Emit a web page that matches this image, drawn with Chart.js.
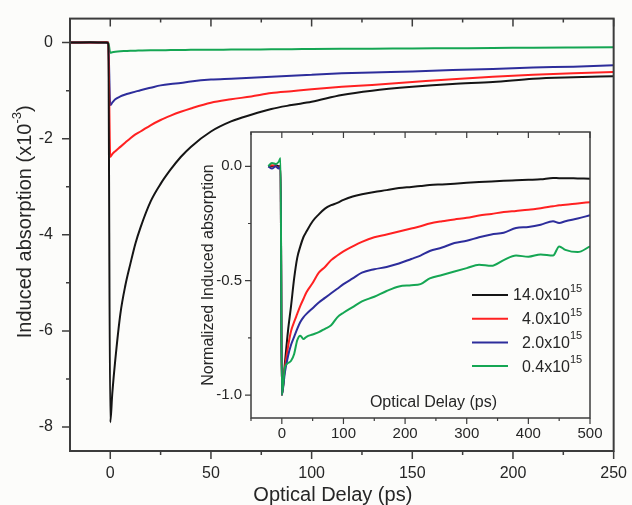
<!DOCTYPE html>
<html>
<head>
<meta charset="utf-8">
<script src="https://cdn.jsdelivr.net/npm/chart.js@4.4.1/dist/chart.umd.min.js"></script>
<style>
  html, body { margin: 0; padding: 0; background: #fcfcfa; }
  #wrap { position: relative; width: 632px; height: 505px; }
  #mainChart { position: absolute; left: 0; top: 0; }
  #insetChart { position: absolute; left: 190px; top: 120px; }
</style>
</head>
<body>
<div id="wrap">
  <canvas id="mainChart" width="632" height="505"></canvas>
  <canvas id="insetChart" width="420" height="330"></canvas>
</div>
<script>
// main panel: induced absorption (x10^-3) vs optical delay (ps)
var mainDelay = [-20, -10, -2, -1, 0, 1, 2.5, 5, 7.5, 10, 12.5, 15, 20, 25, 30, 35, 40, 50, 60, 70, 80, 90, 100, 115, 130, 150, 170, 190, 210, 230, 250];
var mainHigh = [0, 0.01, 0, -0.02, -7.9, -7.3, -6.6, -5.65, -5.05, -4.6, -4.18, -3.85, -3.31, -2.94, -2.64, -2.38, -2.17, -1.85, -1.64, -1.50, -1.38, -1.30, -1.23, -1.09, -1.00, -0.92, -0.86, -0.82, -0.75, -0.72, -0.70];
var mainMid = [0, 0, 0.01, 0, -2.38, -2.32, -2.26, -2.17, -2.08, -1.99, -1.91, -1.85, -1.72, -1.61, -1.52, -1.44, -1.37, -1.25, -1.18, -1.12, -1.05, -1.01, -0.97, -0.92, -0.88, -0.82, -0.76, -0.71, -0.67, -0.64, -0.61];
var mainLow = [0, 0, 0, 0, -1.30, -1.25, -1.18, -1.12, -1.08, -1.05, -1.02, -0.99, -0.94, -0.89, -0.86, -0.84, -0.81, -0.77, -0.75, -0.73, -0.71, -0.69, -0.67, -0.64, -0.62, -0.60, -0.57, -0.55, -0.52, -0.50, -0.47];
var mainLowest = [0, 0, 0, 0, -0.21, -0.20, -0.19, -0.18, -0.175, -0.17, -0.168, -0.165, -0.16, -0.158, -0.155, -0.153, -0.15, -0.148, -0.145, -0.142, -0.14, -0.137, -0.134, -0.13, -0.126, -0.122, -0.117, -0.112, -0.105, -0.10, -0.095];

// inset: normalized induced absorption vs optical delay (ps)
var insetDelay = [-22, -16, -10, -5, -2, 0, 5, 10, 15, 20, 25, 30, 35, 40, 50, 60, 70, 80, 90, 100, 115, 130, 150, 170, 190, 210, 225, 240, 260, 280, 300, 320, 340, 360, 380, 400, 420, 440, 450, 460, 480, 500];
var normHigh = [0, 0, 0.005, 0, 0, -1, -0.86, -0.72, -0.61, -0.49, -0.40, -0.35, -0.31, -0.285, -0.24, -0.21, -0.185, -0.17, -0.16, -0.147, -0.132, -0.122, -0.112, -0.104, -0.095, -0.09, -0.086, -0.082, -0.079, -0.076, -0.072, -0.069, -0.066, -0.063, -0.061, -0.059, -0.057, -0.051, -0.052, -0.052, -0.053, -0.054];
var normMid = [0, 0.005, 0, -0.005, 0, -1, -0.88, -0.79, -0.72, -0.68, -0.645, -0.61, -0.58, -0.55, -0.51, -0.465, -0.44, -0.41, -0.39, -0.372, -0.35, -0.33, -0.31, -0.298, -0.285, -0.272, -0.262, -0.25, -0.24, -0.232, -0.225, -0.215, -0.208, -0.20, -0.195, -0.19, -0.183, -0.175, -0.17, -0.168, -0.162, -0.157];
var normLow = [0, -0.01, 0, -0.01, 0, -1, -0.90, -0.83, -0.78, -0.745, -0.71, -0.68, -0.66, -0.645, -0.62, -0.595, -0.575, -0.555, -0.535, -0.515, -0.49, -0.465, -0.45, -0.44, -0.425, -0.405, -0.39, -0.37, -0.355, -0.335, -0.325, -0.31, -0.298, -0.29, -0.27, -0.265, -0.255, -0.24, -0.248, -0.24, -0.228, -0.214];
var normLowest = [0, 0.015, 0.01, 0.02, 0.035, -1, -0.88, -0.86, -0.85, -0.82, -0.76, -0.74, -0.755, -0.745, -0.735, -0.725, -0.71, -0.695, -0.66, -0.64, -0.615, -0.59, -0.57, -0.545, -0.525, -0.52, -0.515, -0.49, -0.475, -0.46, -0.445, -0.43, -0.435, -0.41, -0.39, -0.395, -0.385, -0.39, -0.35, -0.365, -0.375, -0.35];

// excitation densities (x10^15)
var densityLabels = ['14.0x10', '4.0x10', '2.0x10', '0.4x10'];
var densityExp = '15';
var seriesColors = ['#151515', '#ff2121', '#2d2d9b', '#15a653'];

// tick labels
var mainXLabels = [0, 50, 100, 150, 200, 250];
var mainYLabels = [0, -2, -4, -6, -8];
var insetXLabels = [0, 100, 200, 300, 400, 500];
var insetYLabels = [0, -0.5, -1];

var FONT = '"Liberation Sans", Arial, sans-serif';
var TEXT = '#262626';
var AXIS = '#3c3c3c';

function fontOf(size) { return size + 'px ' + FONT; }

function onStep(v, step) {
    return Math.abs(v / step - Math.round(v / step)) < 1e-6;
}

function hasLabel(list, v) {
    for (var i = 0; i < list.length; i++) {
        if (Math.abs(list[i] - v) < 1e-6) return true;
    }
    return false;
}

// ticks on every multiple of step inside [min, max]
function stepTicks(step) {
    return function (scale) {
        var out = [];
        for (var k = Math.ceil(scale.min / step - 1e-9); k * step <= scale.max + 1e-9; k++) {
            out.push({value: +(k * step).toFixed(6)});
        }
        scale.ticks = out;
    };
}

function toPoints(xs, ys) {
    return xs.map(function (x, i) { return {x: x, y: ys[i]}; });
}

function makeSeries(xs, list, orders) {
    return list.map(function (ys, i) {
        return {
            label: densityLabels[i],
            data: toPoints(xs, ys),
            borderColor: seriesColors[i],
            backgroundColor: seriesColors[i],
            borderWidth: 2,
            pointRadius: 0,
            cubicInterpolationMode: 'monotone',
            fill: false,
            order: orders[i]
        };
    });
}

// text with a raised exponent, parts drawn left to right
function richText(ctx, parts, x, y, align) {
    var total = 0;
    parts.forEach(function (p) {
        ctx.font = fontOf(p.size);
        p.w = ctx.measureText(p.text).width;
        total += p.w;
    });
    var cx = align === 'center' ? x - total / 2 : x;
    ctx.textAlign = 'left';
    ctx.textBaseline = 'middle';
    parts.forEach(function (p) {
        ctx.font = fontOf(p.size);
        ctx.fillText(p.text, cx, y - (p.rise || 0));
        cx += p.w;
    });
}

// box round the plot area, plus tick marks (inward on top, outward bottom/left)
var axisFrame = {
    id: 'axisFrame',
    afterDraw: function (chart, args, o) {
        var ctx = chart.ctx, a = chart.chartArea, xs = chart.scales.x, ys = chart.scales.y;
        ctx.save();
        ctx.strokeStyle = AXIS;
        ctx.lineWidth = o.lineWidth;
        ctx.strokeRect(a.left, a.top, a.right - a.left, a.bottom - a.top);
        ctx.lineWidth = o.tickWidth;
        ctx.beginPath();
        xs.ticks.forEach(function (t) {
            var px = xs.getPixelForValue(t.value);
            var len = onStep(t.value, o.xMajor) ? o.major : o.minor;
            ctx.moveTo(px, a.bottom); ctx.lineTo(px, a.bottom + len);
            ctx.moveTo(px, a.top); ctx.lineTo(px, a.top + len);
        });
        ys.ticks.forEach(function (t) {
            var py = ys.getPixelForValue(t.value);
            var len = onStep(t.value, o.yMajor) ? o.major : o.minor;
            ctx.moveTo(a.left - len, py); ctx.lineTo(a.left, py);
        });
        ctx.stroke();
        ctx.restore();
    }
};

var mainTitle = {
    id: 'mainTitle',
    afterDraw: function (chart) {
        var ctx = chart.ctx, a = chart.chartArea;
        ctx.save();
        ctx.fillStyle = TEXT;
        ctx.font = fontOf(20);
        ctx.textAlign = 'center';
        ctx.textBaseline = 'middle';
        ctx.fillText('Optical Delay (ps)', (a.left + a.right) / 2 - 9, chart.height - 10);
        ctx.translate(25, (a.top + a.bottom) / 2 - 13);
        ctx.rotate(-Math.PI / 2);
        richText(ctx, [
            {text: 'Induced absorption (x10', size: 20},
            {text: '-3', size: 13, rise: 8},
            {text: ')', size: 20}
        ], 0, 0, 'center');
        ctx.restore();
    }
};

var insetNotes = {
    id: 'insetNotes',
    afterDraw: function (chart) {
        var ctx = chart.ctx, a = chart.chartArea;
        ctx.save();
        // axis title sits inside the plot area
        ctx.fillStyle = TEXT;
        ctx.font = fontOf(16);
        ctx.textAlign = 'center';
        ctx.textBaseline = 'middle';
        ctx.fillText('Optical Delay (ps)', (a.left + a.right) / 2 + 13, a.bottom - 15);
        // legend
        chart.data.datasets.forEach(function (ds, i) {
            var y = a.top + 163 + i * 23.7;
            ctx.strokeStyle = ds.borderColor;
            ctx.lineWidth = 2;
            ctx.beginPath();
            ctx.moveTo(a.right - 118, y);
            ctx.lineTo(a.right - 82, y);
            ctx.stroke();
            ctx.font = fontOf(16);
            var bw = ctx.measureText(ds.label).width;
            ctx.fillStyle = TEXT;
            richText(ctx, [
                {text: ds.label, size: 16},
                {text: densityExp, size: 11, rise: 7}
            ], a.right - 20 - bw, y + 1, 'left');
        });
        ctx.restore();
    }
};

function scaleX(min, max, step, labels, tickLen, pad, size, extra) {
    var s = {
        type: 'linear',
        position: 'bottom',
        min: min,
        max: max,
        border: {display: false},
        grid: {drawOnChartArea: false, drawTicks: true, tickLength: tickLen, tickColor: 'rgba(0,0,0,0)'},
        afterBuildTicks: stepTicks(step),
        ticks: {
            autoSkip: false,
            maxRotation: 0,
            padding: pad,
            color: TEXT,
            font: {family: FONT, size: size},
            callback: function (v) { return hasLabel(labels, v) ? String(v) : ''; }
        }
    };
    for (var k in extra) s[k] = extra[k];
    return s;
}

function scaleY(min, max, step, labels, tickLen, pad, size, fmt, extra) {
    var s = {
        type: 'linear',
        min: min,
        max: max,
        border: {display: false},
        grid: {drawOnChartArea: false, drawTicks: true, tickLength: tickLen, tickColor: 'rgba(0,0,0,0)'},
        afterBuildTicks: stepTicks(step),
        ticks: {
            autoSkip: false,
            padding: pad,
            color: TEXT,
            font: {family: FONT, size: size},
            callback: function (v) { return hasLabel(labels, v) ? fmt(v) : ''; }
        }
    };
    for (var k in extra) s[k] = extra[k];
    return s;
}

function drawMain() {
    var ctx = document.getElementById('mainChart').getContext('2d');
    new Chart(ctx, {
        type: 'line',
        data: {datasets: makeSeries(mainDelay, [mainHigh, mainMid, mainLow, mainLowest], [0, 1, 2, 3])},
        options: {
            responsive: false,
            animation: false,
            layout: {padding: {top: 13, right: 16, left: 0, bottom: 0}},
            plugins: {legend: {display: false}, tooltip: {enabled: false}, axisFrame: {lineWidth: 2, tickWidth: 1.5, major: 8, minor: 4, xMajor: 50, yMajor: 2}},
            scales: {
                x: scaleX(-20, 250, 25, mainXLabels, 8, 5, 16, {
                    afterFit: function (scale) { scale.height = 54; }
                }),
                y: scaleY(-8.5, 0.5, 1, mainYLabels, 8, 9, 16, function (v) { return String(v); }, {
                    afterFit: function (scale) { scale.width = 70; }
                })
            }
        },
        plugins: [axisFrame, mainTitle]
    });
}

function drawInset() {
    var ctx = document.getElementById('insetChart').getContext('2d');
    new Chart(ctx, {
        type: 'line',
        data: {datasets: makeSeries(insetDelay, [normHigh, normMid, normLow, normLowest], [3, 2, 1, 0])},
        options: {
            responsive: false,
            animation: false,
            layout: {padding: {top: 10, right: 20, left: 0, bottom: 0}},
            plugins: {legend: {display: false}, tooltip: {enabled: false}, axisFrame: {lineWidth: 1.5, tickWidth: 1.2, major: 6, minor: 3, xMajor: 100, yMajor: 0.5}},
            scales: {
                x: scaleX(-50, 500, 50, insetXLabels, 6, 1, 15, {
                    afterFit: function (scale) { scale.height = 32; }
                }),
                y: scaleY(-1.1, 0.15, 0.25, insetYLabels, 6, 3, 15, function (v) { return v.toFixed(1); }, {
                    afterFit: function (scale) { scale.width = 61; },
                    title: {display: true, text: 'Normalized Induced absorption', color: TEXT, font: {family: FONT, size: 16}, padding: {top: 9, bottom: 0}}
                })
            }
        },
        plugins: [axisFrame, insetNotes]
    });
}

drawMain();
drawInset();
</script>
</body>
</html>
